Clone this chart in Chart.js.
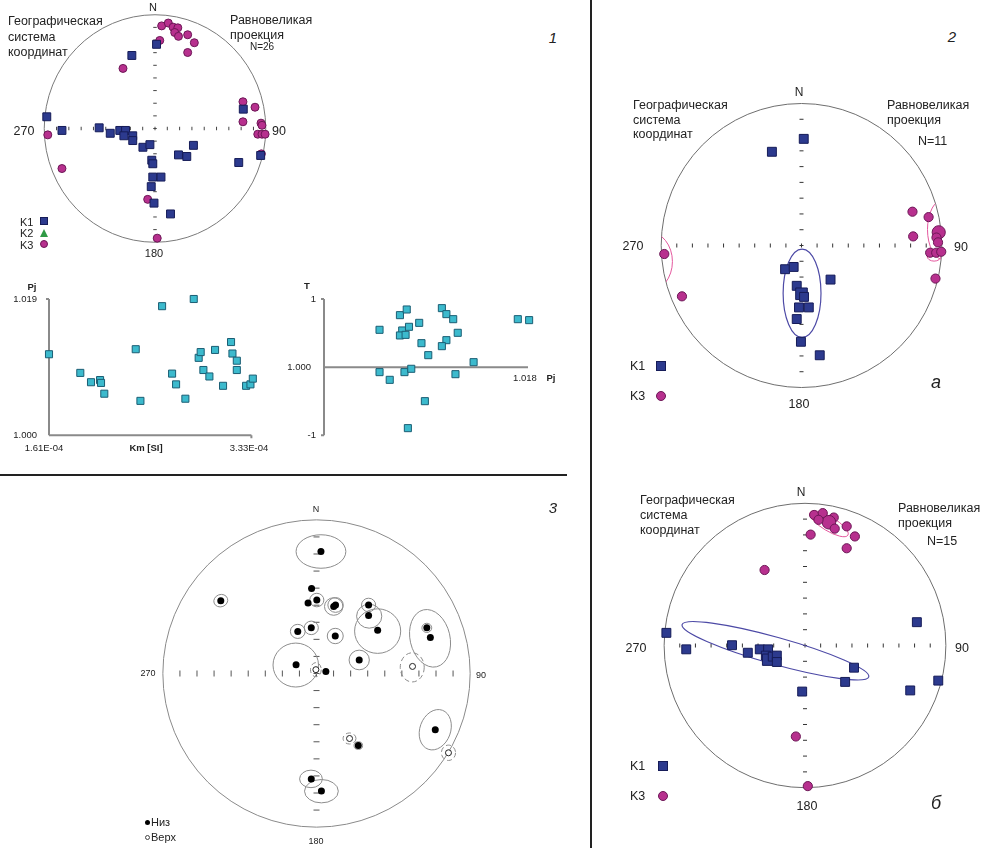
<!DOCTYPE html>
<html>
<head>
<meta charset="utf-8">
<script src="https://cdn.jsdelivr.net/npm/chart.js@4.4.1/dist/chart.umd.min.js"></script>
<style>
  body { margin: 0; width: 981px; height: 848px; position: relative; overflow: hidden; background: #fff;
         font-family: "Liberation Sans", Arial, sans-serif; color: #222; }
  canvas { position: absolute; }
  .t { position: absolute; white-space: nowrap; line-height: 1; }
  .rule { position: absolute; background: #222; }
  .mk { position: absolute; box-sizing: border-box; }
</style>
</head>
<body>
<div class="rule" style="left:590px;top:0;width:2px;height:848px"></div>
<div class="rule" style="left:0;top:474px;width:567px;height:2px"></div>

<canvas id="net1"></canvas>
<canvas id="plotKm"></canvas>
<canvas id="plotT"></canvas>
<canvas id="net2a"></canvas>
<canvas id="net2b"></canvas>
<canvas id="net3"></canvas>
<div id="labels"></div>

<script>
// ── Данные: стереограммы, координаты в долях радиуса (x — восток, y — север) ──

// Панель 1 — K1 (квадраты) и K3 (круги), N=26
const p1K1 = [[0.014,0.740],[-0.209,0.642],[-0.977,0.103],[-0.840,-0.017],[-0.504,0.006],[-0.404,-0.042],
  [-0.318,-0.017],[-0.266,-0.017],[-0.281,-0.064],[-0.201,-0.064],[-0.201,-0.106],[-0.109,-0.165],
  [-0.046,-0.142],[-0.029,-0.279],[-0.020,-0.310],[-0.020,-0.427],[0.054,-0.427],[-0.034,-0.511],
  [-0.009,-0.656],[0.140,-0.751],[0.212,-0.232],[0.287,-0.246],[0.347,-0.148],[0.756,-0.299],
  [0.797,0.170],[0.954,-0.237]];
const p1K3 = [[0.060,0.902],[0.120,0.927],[0.163,0.891],[0.206,0.885],[0.178,0.844],[0.212,0.810],
  [0.295,0.824],[0.355,0.754],[0.295,0.668],[0.043,0.774],[-0.289,0.528],[0.794,0.235],[0.903,0.187],
  [0.794,0.059],[0.957,0.047],[0.966,0.028],[0.928,-0.050],[0.966,-0.050],[0.994,-0.050],[0.960,-0.223],
  [-0.968,-0.056],[-0.840,-0.352],[-0.066,-0.623],[0.020,-0.964]];

// Панель 1 — Pj от Km
const kmValues = [1.610e-4,1.876e-4,1.967e-4,2.044e-4,2.052e-4,2.080e-4,2.347e-4,2.387e-4,2.571e-4,2.840e-4,
  2.656e-4,2.690e-4,2.769e-4,2.882e-4,2.899e-4,2.922e-4,2.973e-4,3.021e-4,3.089e-4,3.157e-4,3.169e-4,
  3.206e-4,3.206e-4,3.285e-4,3.322e-4,3.342e-4];
const pjByKm = [1.0113,1.0087,1.0074,1.0077,1.0073,1.0058,1.0120,1.0048,1.0180,1.0190,1.0086,1.0071,1.0051,
  1.0108,1.0116,1.0091,1.0082,1.0119,1.0069,1.0130,1.0114,1.0104,1.0091,1.0069,1.0071,1.0079];
const kmTicks = [1.61e-4, 3.33e-4];
const pjTicks = [1.000, 1.019];

// Панель 1 — T от Pj
const pjValues = [1.0049,1.0067,1.0073,1.0069,1.0067,1.0072,1.0075,1.0084,1.0086,1.0092,1.0104,1.0108,1.0114,
  1.0108,1.0104,1.0118,1.0132,1.0171,1.0181,1.0049,1.0058,1.0071,1.0077,1.0116,1.0089,1.0074];
const tValues = [0.548,0.763,0.846,0.538,0.465,0.474,0.592,0.650,0.352,0.176,0.866,0.778,0.704,0.396,0.308,
  0.504,0.073,0.704,0.690,-0.073,-0.186,-0.073,-0.024,-0.103,-0.499,-0.895];
const tTicks = [-1, 1];
const pjAxisTicks = [1.000, 1.018];

// Панель 2а, N=11
const p2aK1 = [[0.016,0.751],[-0.211,0.660],[-0.117,-0.167],[-0.056,-0.151],[0.207,-0.240],[-0.034,-0.284],
  [0.000,-0.340],[0.018,-0.362],[-0.018,-0.436],[0.052,-0.436],[-0.034,-0.518],[-0.004,-0.678],[0.130,-0.773]];
const p2aK3 = [[0.791,0.238],[0.906,0.200],[0.796,0.064],[0.978,0.093],[0.962,0.056],[0.973,0.022],
  [0.917,-0.051],[0.960,-0.051],[0.996,-0.044],[0.955,-0.233],[-0.978,-0.060],[-0.852,-0.358]];
const p2aK1Mean = [6];
const p2aK3Mean = [3];
// эллипсы доверия: центр x, центр y, полуось x, полуось y, поворот (°)
const p2aK1Ellipse = [[0.004,-0.336,0.135,0.311,0]];
const p2aK3Ellipse = [[1.013,0.113,0.115,0.213,0],[0.945,-0.075,0.050,0.035,0],[-1.090,-0.113,0.170,0.210,0]];

// Панель 2б, N=15
const p2bK1 = [[-0.984,0.089],[-0.843,-0.027],[-0.518,0.002],[-0.406,-0.051],[-0.321,-0.027],[-0.262,-0.027],
  [-0.278,-0.071],[-0.262,-0.100],[-0.229,-0.078],[-0.200,-0.071],[-0.200,-0.116],[0.348,-0.156],
  [0.285,-0.256],[-0.020,-0.324],[0.794,0.164],[0.747,-0.316],[0.946,-0.247]];
const p2bK3 = [[0.065,0.918],[0.126,0.931],[0.204,0.900],[0.170,0.867],[0.211,0.822],[0.296,0.838],
  [0.354,0.767],[0.296,0.684],[0.040,0.780],[0.096,0.884],[-0.287,0.531],[-0.065,-0.640],[0.020,-0.989]];
const p2bK1Mean = [7];
const p2bK3Mean = [3];
const p2bK1Ellipse = [[-0.210,-0.037,0.688,0.095,15.6]];
const p2bK3Ellipse = [[0.170,0.856,0.157,0.050,31]];

// Панель 3 — нижняя (Низ) и верхняя (Верх) полусферы
const p3Low = [[0.029,0.794],[-0.032,0.554],[-0.623,0.474],[-0.055,0.459],[0.002,0.478],[0.112,0.436],
  [0.124,0.446],[0.339,0.446],[0.339,0.377],[0.398,0.282],[-0.122,0.274],[-0.034,0.297],[0.122,0.244],
  [0.718,0.297],[0.741,0.234],[0.278,0.088],[-0.133,0.057],[0.061,0.013],[0.773,-0.366],[0.272,-0.469],
  [-0.034,-0.686],[0.032,-0.764]];
const p3High = [[-0.004,0.025],[0.625,0.046],[0.859,-0.516],[0.215,-0.423]];
const p3LowEllipse = [[0.029,0.794,0.162,0.109,0],[-0.623,0.474,0.046,0.040,-20],[0.002,0.478,0.046,0.044,0],
  [0.112,0.436,0.060,0.057,0],[0.124,0.446,0.050,0.048,0],[0.339,0.446,0.046,0.044,0],[0.343,0.373,0.082,0.078,0],
  [0.398,0.276,0.150,0.145,0],[-0.122,0.274,0.048,0.046,0],[-0.034,0.297,0.046,0.044,0],[0.122,0.244,0.052,0.050,0],
  [0.718,0.297,0.032,0.030,0],[0.739,0.229,0.130,0.190,-13],[0.278,0.088,0.066,0.064,0],[-0.135,0.055,0.148,0.143,0],
  [0.773,-0.366,0.100,0.135,20],[0.272,-0.469,0.028,0.025,0],[-0.036,-0.686,0.074,0.057,0],[0.032,-0.766,0.110,0.076,0]];
const p3HighEllipse = [[-0.004,0.025,0.035,0.046,0],[0.623,0.040,0.078,0.095,0],[0.859,-0.516,0.046,0.050,0],
  [0.215,-0.423,0.042,0.036,0]];

// ── Цвета ──
const NAVY = '#2c3a8e', NAVY_EDGE = '#161c58';
const MAG = '#b7308e', MAG_EDGE = '#6c1756';
const CYAN = '#3cbacd', CYAN_EDGE = '#1b5e74';
const GREEN = '#2f9a45';

const pts = list => list.map(([x, y]) => ({ x, y }));
const sizes = (list, big, r, rBig) => list.map((_, i) => big.includes(i) ? rBig : r);

// ── Плагин: круг сетки, штрихи осей, эллипсы ──
const netPlugin = {
  id: 'net',
  beforeDatasetsDraw(chart, args, o) {
    const { ctx, scales: { x, y } } = chart;
    const ox = x.getPixelForValue(0), oy = y.getPixelForValue(0);
    const sx = x.getPixelForValue(1) - ox, sy = oy - y.getPixelForValue(1);
    ctx.save();
    ctx.strokeStyle = o.circleColor; ctx.lineWidth = 1;
    ctx.beginPath(); ctx.ellipse(ox, oy, sx, sy, 0, 0, 2 * Math.PI); ctx.stroke();

    // штрихи через 1/9 радиуса
    const h = o.tickLen / 2;
    ctx.strokeStyle = o.tickColor; ctx.lineWidth = o.tickWidth;
    ctx.beginPath();
    for (let i = -8; i <= 8; i++) {
      const px = x.getPixelForValue(i / 9), py = y.getPixelForValue(i / 9);
      ctx.moveTo(px, oy - h); ctx.lineTo(px, oy + h);
      ctx.moveTo(ox - h, py); ctx.lineTo(ox + h, py);
    }
    ctx.stroke();

    (o.ellipses || []).forEach(g => {
      ctx.save();
      if (g.clip) { ctx.beginPath(); ctx.ellipse(ox, oy, sx, sy, 0, 0, 2 * Math.PI); ctx.clip(); }
      ctx.strokeStyle = g.color; ctx.lineWidth = g.width; ctx.setLineDash(g.dash || []);
      g.list.forEach(([ex, ey, a, b, rot]) => {
        ctx.beginPath();
        ctx.ellipse(x.getPixelForValue(ex), y.getPixelForValue(ey), a * sx, b * sy, rot * Math.PI / 180, 0, 2 * Math.PI);
        ctx.stroke();
      });
      ctx.restore();
    });
    ctx.restore();
  }
};

function netChart(id, geo, datasets, net) {
  const cv = document.getElementById(id);
  const w = Math.round(geo.rx * 2.3), h = Math.round(geo.ry * 2.3);
  cv.width = w; cv.height = h;
  cv.style.left = (geo.cx - w / 2) + 'px';
  cv.style.top = (geo.cy - h / 2) + 'px';
  const limX = w / 2 / geo.rx, limY = h / 2 / geo.ry;
  return new Chart(cv, {
    type: 'scatter',
    data: { datasets },
    options: {
      responsive: false, animation: false, events: [],
      layout: { padding: 0 },
      scales: {
        x: { display: false, min: -limX, max: limX },
        y: { display: false, min: -limY, max: limY }
      },
      plugins: { legend: { display: false }, tooltip: { enabled: false }, net }
    },
    plugins: [netPlugin]
  });
}

function k1Set(list, big, r, rBig) {
  return { data: pts(list), pointStyle: 'rect', pointRadius: sizes(list, big, r, rBig),
           backgroundColor: NAVY, borderColor: NAVY_EDGE, borderWidth: 1, clip: false };
}
function k3Set(list, big, r, rBig) {
  return { data: pts(list), pointStyle: 'circle', pointRadius: sizes(list, big, r, rBig),
           backgroundColor: MAG, borderColor: MAG_EDGE, borderWidth: 1, clip: false };
}

// ── Панель 1: стереограмма ──
netChart('net1', { cx: 154.5, cy: 128.5, rx: 116.5, ry: 119.5 },
  [k1Set(p1K1, [], 5.6, 5.6), k3Set(p1K3, [], 4, 4)],
  { circleColor: '#7a7a7a', tickColor: '#444', tickLen: 3.5, tickWidth: 1 });

// ── Панель 2а ──
netChart('net2a', { cx: 801.7, cy: 245, rx: 148.3, ry: 150 },
  [k1Set(p2aK1, p2aK1Mean, 6.3, 8.2), k3Set(p2aK3, p2aK3Mean, 4.6, 6.6)],
  { circleColor: '#6e6e6e', tickColor: '#333', tickLen: 4, tickWidth: 1,
    ellipses: [
      { list: p2aK1Ellipse, color: '#4d4aa6', width: 1.2, clip: true },
      { list: p2aK3Ellipse, color: '#e4589e', width: 1, clip: true }
    ] });

// ── Панель 2б ──
netChart('net2b', { cx: 804.7, cy: 645, rx: 148.7, ry: 150 },
  [k1Set(p2bK1, p2bK1Mean, 6.3, 8), k3Set(p2bK3, p2bK3Mean, 4.6, 6.8)],
  { circleColor: '#6e6e6e', tickColor: '#333', tickLen: 4, tickWidth: 1,
    ellipses: [
      { list: p2bK1Ellipse, color: '#4d4aa6', width: 1.2, clip: true },
      { list: p2bK3Ellipse, color: '#e4589e', width: 1, clip: true }
    ] });

// ── Панель 3 ──
netChart('net3', { cx: 316.3, cy: 673, rx: 158, ry: 158 },
  [
    { data: pts(p3Low), pointStyle: 'circle', pointRadius: 3.5, backgroundColor: '#000', borderColor: '#000', borderWidth: 0, clip: false },
    { data: pts(p3High), pointStyle: 'circle', pointRadius: 3, backgroundColor: '#fff', borderColor: '#222', borderWidth: 1, clip: false }
  ],
  { circleColor: '#8a8a8a', tickColor: '#555', tickLen: 6, tickWidth: 1,
    ellipses: [
      { list: p3LowEllipse, color: '#8c8c8c', width: 1 },
      { list: p3HighEllipse, color: '#8c8c8c', width: 1, dash: [5, 3] }
    ] });

// ── Графики рассеяния ──
const axesPlugin = {
  id: 'axes',
  beforeDatasetsDraw(chart, args, o) {
    const { ctx, scales: { x, y } } = chart;
    const ax = x.getPixelForValue(o.yAxisAt), ay = y.getPixelForValue(o.xAxisAt);
    ctx.save();
    ctx.strokeStyle = '#8a8a8a'; ctx.lineWidth = 2;
    ctx.beginPath();
    ctx.moveTo(ax, y.getPixelForValue(y.min)); ctx.lineTo(ax, y.getPixelForValue(y.max));
    ctx.moveTo(x.getPixelForValue(x.min), ay); ctx.lineTo(x.getPixelForValue(x.max), ay);
    o.yTicks.forEach(v => { const p = y.getPixelForValue(v); ctx.moveTo(ax - 3, p); ctx.lineTo(ax, p); });
    o.xTicks.forEach(v => { const p = x.getPixelForValue(v); ctx.moveTo(p, ay); ctx.lineTo(p, ay + 3); });
    ctx.stroke();
    ctx.restore();
  }
};

function plotChart(id, area, xs, ys, axes) {
  const cv = document.getElementById(id);
  const P = 14;
  const w = Math.round(area.r - area.l + 2 * P), h = Math.round(area.b - area.t + 2 * P);
  cv.width = w; cv.height = h;
  cv.style.left = (area.l - P) + 'px';
  cv.style.top = (area.t - P) + 'px';
  return new Chart(cv, {
    type: 'scatter',
    data: { datasets: [{
      data: xs.map((v, i) => ({ x: v, y: ys[i] })),
      pointStyle: 'rect', pointRadius: 5, backgroundColor: CYAN, borderColor: CYAN_EDGE, borderWidth: 1, clip: false
    }] },
    options: {
      responsive: false, animation: false, events: [],
      layout: { padding: { left: P, top: P, right: w - P - (area.r - area.l), bottom: h - P - (area.b - area.t) } },
      scales: {
        x: { display: false, min: axes.xMin, max: axes.xMax },
        y: { display: false, min: axes.yMin, max: axes.yMax }
      },
      plugins: { legend: { display: false }, tooltip: { enabled: false }, axes }
    },
    plugins: [axesPlugin]
  });
}

plotChart('plotKm', { l: 49.3, r: 251.7, t: 299, b: 435.3 }, kmValues, pjByKm,
  { xMin: kmTicks[0], xMax: kmTicks[1], yMin: pjTicks[0], yMax: pjTicks[1],
    yAxisAt: kmTicks[0], xAxisAt: pjTicks[0], yTicks: [pjTicks[1]], xTicks: [kmTicks[1]] });

plotChart('plotT', { l: 324.3, r: 528.3, t: 299, b: 435.3 }, pjValues, tValues,
  { xMin: pjAxisTicks[0], xMax: pjAxisTicks[1], yMin: tTicks[0], yMax: tTicks[1],
    yAxisAt: pjAxisTicks[0], xAxisAt: 0, yTicks: tTicks, xTicks: [] });

// ── Подписи ──
const box = document.getElementById('labels');
function txt(s, x, y, size, align, extra) {
  const d = document.createElement('div');
  d.className = 't';
  d.textContent = s;
  const tx = align === 'l' ? '0' : align === 'r' ? '-100%' : '-50%';
  d.style.cssText += `left:${x}px;top:${y}px;font-size:${size}px;transform:translate(${tx},-50%);` + (extra || '');
  box.appendChild(d);
}
function marker(kind, x, y, s) {
  const d = document.createElement('div');
  d.className = 'mk';
  if (kind === 'sq') d.style.cssText = `left:${x - s / 2}px;top:${y - s / 2}px;width:${s}px;height:${s}px;background:${NAVY};border:1px solid ${NAVY_EDGE}`;
  if (kind === 'ci') d.style.cssText = `left:${x - s / 2}px;top:${y - s / 2}px;width:${s}px;height:${s}px;border-radius:50%;background:${MAG};border:1px solid ${MAG_EDGE}`;
  if (kind === 'tr') d.style.cssText = `left:${x - s / 2}px;top:${y - s / 2}px;width:0;height:0;border-left:${s / 2}px solid transparent;border-right:${s / 2}px solid transparent;border-bottom:${s}px solid ${GREEN}`;
  if (kind === 'dot') d.style.cssText = `left:${x - s / 2}px;top:${y - s / 2}px;width:${s}px;height:${s}px;border-radius:50%;background:#000`;
  if (kind === 'ring') d.style.cssText = `left:${x - s / 2}px;top:${y - s / 2}px;width:${s}px;height:${s}px;border-radius:50%;border:1px solid #444;background:#fff`;
  box.appendChild(d);
}
const IT = 'font-style:italic;';

// панель 1
txt('N', 153, 7, 11, 'c');
txt('Географическая', 8, 21, 12.5, 'l');
txt('система', 8, 36.5, 12.5, 'l');
txt('координат', 8, 51.5, 12.5, 'l');
txt('Равновеликая', 230, 19.5, 12.5, 'l');
txt('проекция', 230, 34.5, 12.5, 'l');
txt('N=26', 250, 47, 10, 'l');
txt('270', 24, 131, 12.5, 'c');
txt('90', 279, 131, 12.5, 'c');
txt('180', 154, 253, 11, 'c');
txt('1', 553, 37, 15, 'c', IT);
txt('K1', 20, 222, 11, 'l'); marker('sq', 44, 221, 8);
txt('K2', 20, 233, 11, 'l'); marker('tr', 44, 233, 8);
txt('K3', 20, 244.5, 11, 'l'); marker('ci', 44, 244, 8);

txt('Pj', 32, 287, 9.5, 'c', 'font-weight:bold;');
txt('1.019', 37, 299, 9.5, 'r');
txt('1.000', 37, 435, 9.5, 'r');
txt('1.61E-04', 44, 448, 9.5, 'c');
txt('Km [SI]', 146, 448, 9.5, 'c', 'font-weight:bold;');
txt('3.33E-04', 249, 448, 9.5, 'c');

txt('T', 307, 286, 9.5, 'c', 'font-weight:bold;');
txt('1', 316, 299, 9.5, 'r');
txt('-1', 316, 435, 9.5, 'r');
txt('1.000', 311, 367, 9.5, 'r');
txt('1.018', 525, 378, 9.5, 'c');
txt('Pj', 551, 378, 9.5, 'c', 'font-weight:bold;');

// панель 2а
txt('2', 952, 36, 15, 'c', IT);
txt('N', 799, 92, 12, 'c');
txt('Географическая', 633, 105, 12.5, 'l');
txt('система', 633, 119.5, 12.5, 'l');
txt('координат', 633, 134, 12.5, 'l');
txt('Равновеликая', 887, 105, 12.5, 'l');
txt('проекция', 887, 119.5, 12.5, 'l');
txt('N=11', 918, 141, 12.5, 'l');
txt('270', 633, 246, 12.5, 'c');
txt('90', 961, 247, 12.5, 'c');
txt('180', 799, 404, 12.5, 'c');
txt('а', 936, 382, 18, 'c', IT);
txt('K1', 630, 366, 12.5, 'l'); marker('sq', 661, 366, 10);
txt('K3', 630, 396, 12.5, 'l'); marker('ci', 661, 396, 10);

// панель 2б
txt('N', 801, 492, 12, 'c');
txt('Географическая', 640, 500, 12.5, 'l');
txt('система', 640, 515, 12.5, 'l');
txt('координат', 640, 530, 12.5, 'l');
txt('Равновеликая', 898, 508, 12.5, 'l');
txt('проекция', 898, 523, 12.5, 'l');
txt('N=15', 927, 541, 12.5, 'l');
txt('270', 636, 648, 12.5, 'c');
txt('90', 962, 648, 12.5, 'c');
txt('180', 807, 806, 12.5, 'c');
txt('б', 936, 803, 18, 'c', IT);
txt('K1', 630, 766, 12.5, 'l'); marker('sq', 663, 766, 10);
txt('K3', 630, 796, 12.5, 'l'); marker('ci', 663, 796, 10);

// панель 3
txt('3', 553, 507, 15, 'c', IT);
txt('N', 316, 509, 9, 'c');
txt('270', 148, 673, 9, 'c');
txt('90', 481, 675, 9, 'c');
txt('180', 316, 841, 9, 'c');
marker('dot', 147, 822, 5); txt('Низ', 151, 822, 11, 'l');
marker('ring', 147, 837, 5); txt('Верх', 151, 837, 11, 'l');
</script>
</body>
</html>
